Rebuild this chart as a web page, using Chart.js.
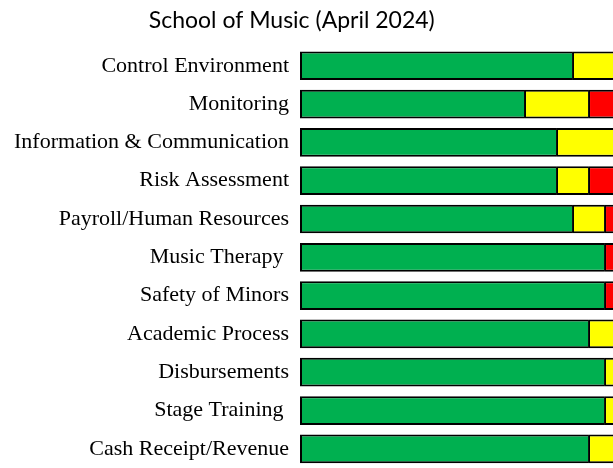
<!DOCTYPE html>
<html>
<head>
<meta charset="utf-8">
<script src="https://cdn.jsdelivr.net/npm/chart.js@4"></script>
<style>
  body { margin: 0; background: #fff; }
</style>
</head>
<body>
<canvas id="auditChart" width="613" height="468"></canvas>
<script>
const areas = [
  "Control Environment",
  "Monitoring",
  "Information & Communication",
  "Risk Assessment",
  "Payroll/Human Resources",
  "Music Therapy ",
  "Safety of Minors",
  "Academic Process",
  "Disbursements",
  "Stage Training ",
  "Cash Receipt/Revenue",
];
const greenValues = [85, 70, 80, 80, 85, 95, 95, 90, 95, 95, 90];
const yellowValues = [15, 20, 20, 10, 10, 0, 0, 10, 5, 5, 10];
const redValues = [0, 10, 0, 10, 5, 5, 5, 0, 0, 0, 0];

// each segment draws its own left edge so the dividers stay one line thick
const segBorder = { top: 2, bottom: 2, left: 2, right: 0 };

window.onload = () => {
  const ctx = document.getElementById("auditChart").getContext("2d");
  new Chart(ctx, {
    type: "bar",
    data: {
      labels: areas,
      datasets: [
        { label: "Green", data: greenValues, backgroundColor: "#00B050" },
        { label: "Yellow", data: yellowValues, backgroundColor: "#FFFF00" },
        { label: "Red", data: redValues, backgroundColor: "#FF0000" },
      ].map((d) => ({
        ...d,
        borderColor: "#000000",
        borderWidth: segBorder,
        borderSkipped: false,
        barPercentage: 0.75,
        categoryPercentage: 1,
      })),
    },
    options: {
      indexAxis: "y",
      responsive: false,
      animation: false,
      layout: { padding: 0 },
      plugins: {
        legend: { display: false },
        tooltip: { enabled: false },
        title: {
          display: true,
          text: "School of Music (April 2024)     ",
          color: "#000",
          font: { family: "Lato", size: 23, weight: "normal" },
          padding: { top: 7, bottom: 12 },
        },
      },
      scales: {
        x: {
          stacked: true,
          display: false,
          min: 0,
          max: 97.8,
        },
        y: {
          stacked: true,
          grid: { display: false, drawTicks: false },
          border: { display: false },
          ticks: {
            color: "#000",
            padding: 11,
            font: { family: "Liberation Serif", size: 22 },
          },
          afterFit(scale) {
            // fixed label column, and no extra room above/below the bars
            scale.width = 300;
            scale.paddingTop = 0;
            scale.paddingBottom = 0;
          },
        },
      },
    },
  });
};
</script>
</body>
</html>
